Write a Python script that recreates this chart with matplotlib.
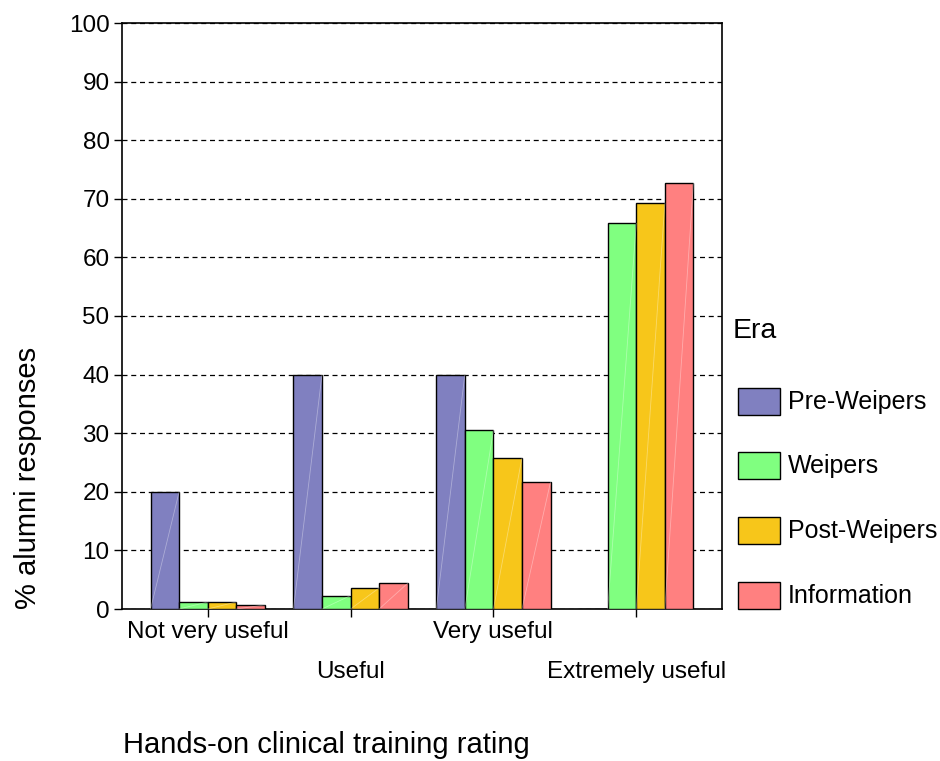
import matplotlib
matplotlib.use("Agg")
import matplotlib.pyplot as plt
import matplotlib.patches as mpatches
import numpy as np

plt.rcParams["font.family"] = ["Liberation Sans", "DejaVu Sans"]

# ── 데이터 ───────────────────────────────────────────────
categories = ["Not very useful", "Useful", "Very useful", "Extremely useful"]
eras = ["Pre-Weipers", "Weipers", "Post-Weipers", "Information"]
pre_weipers = [20.0, 40.0, 40.0, 0.0]
weipers = [1.2, 2.3, 30.5, 65.8]
post_weipers = [1.2, 3.6, 25.8, 69.2]
information = [0.7, 4.4, 21.7, 72.7]
y_ticks = list(range(0, 101, 10))

colors = ["#8080C0", "#80FF80", "#F7C61A", "#FF8080"]
series = [pre_weipers, weipers, post_weipers, information]

# ── 그리기 ───────────────────────────────────────────────
fig = plt.figure(figsize=(9.4, 7.61), dpi=100)
ax = fig.add_axes([122 / 940, 1 - 609 / 761, 600 / 940, 586 / 761])

x = np.arange(len(categories))
w = 0.2
for i, (vals, col) in enumerate(zip(series, colors)):
    bars = ax.bar(x + (i - 1.5) * w, vals, width=w, color=col,
                  edgecolor="black", linewidth=1.0, zorder=3)
    # 엑셀 그라데이션 흔적 (흰 사선)
    for b in bars:
        if b.get_height() > 0:
            ax.plot([b.get_x(), b.get_x() + b.get_width()],
                    [0, b.get_height()], color="white", alpha=0.35,
                    linewidth=0.6, zorder=4)

ax.set_xlim(-0.6, 3.6)
ax.set_ylim(0, 100)
ax.set_yticks(y_ticks)
ax.set_yticklabels([str(t) for t in y_ticks], fontsize=17.5)
ax.yaxis.grid(True, linestyle=(0, (4, 3)), color="black", linewidth=0.9, zorder=0)
ax.tick_params(axis="y", direction="out", length=6, width=1, pad=3)

ax.set_xticks(x)
ax.set_xticklabels([])
ax.tick_params(axis="x", direction="out", length=6, width=1)
# 엇갈린 카테고리 라벨
for i, lab in enumerate(categories):
    yoff = -0.04 if i % 2 == 0 else -0.108
    ax.text(x[i], yoff, lab, transform=ax.get_xaxis_transform(),
            ha="center", va="center", fontsize=17.5)

for sp in ax.spines.values():
    sp.set_linewidth(1.2)

fig.text(326 / 940, 1 - 745 / 761, "Hands-on clinical training rating",
         ha="center", va="center", fontsize=21)
fig.text(28 / 940, 1 - 478 / 761, "% alumni responses", rotation=90,
         ha="center", va="center", fontsize=21)

# 범례
fig.text(733 / 940, 1 - 331 / 761, "Era", ha="left", va="center", fontsize=20.5)
leg_y = [402, 466, 531, 596]
for name, col, yy in zip(eras, colors, leg_y):
    fig.patches.append(mpatches.Rectangle(
        (738 / 940, 1 - (yy + 13) / 761), 42 / 940, 27 / 761,
        facecolor=col, edgecolor="black", linewidth=1.0,
        transform=fig.transFigure, figure=fig))
    fig.text(788 / 940, 1 - yy / 761, name, ha="left", va="center", fontsize=18)

fig.savefig("out.png", dpi=100, facecolor="white")
